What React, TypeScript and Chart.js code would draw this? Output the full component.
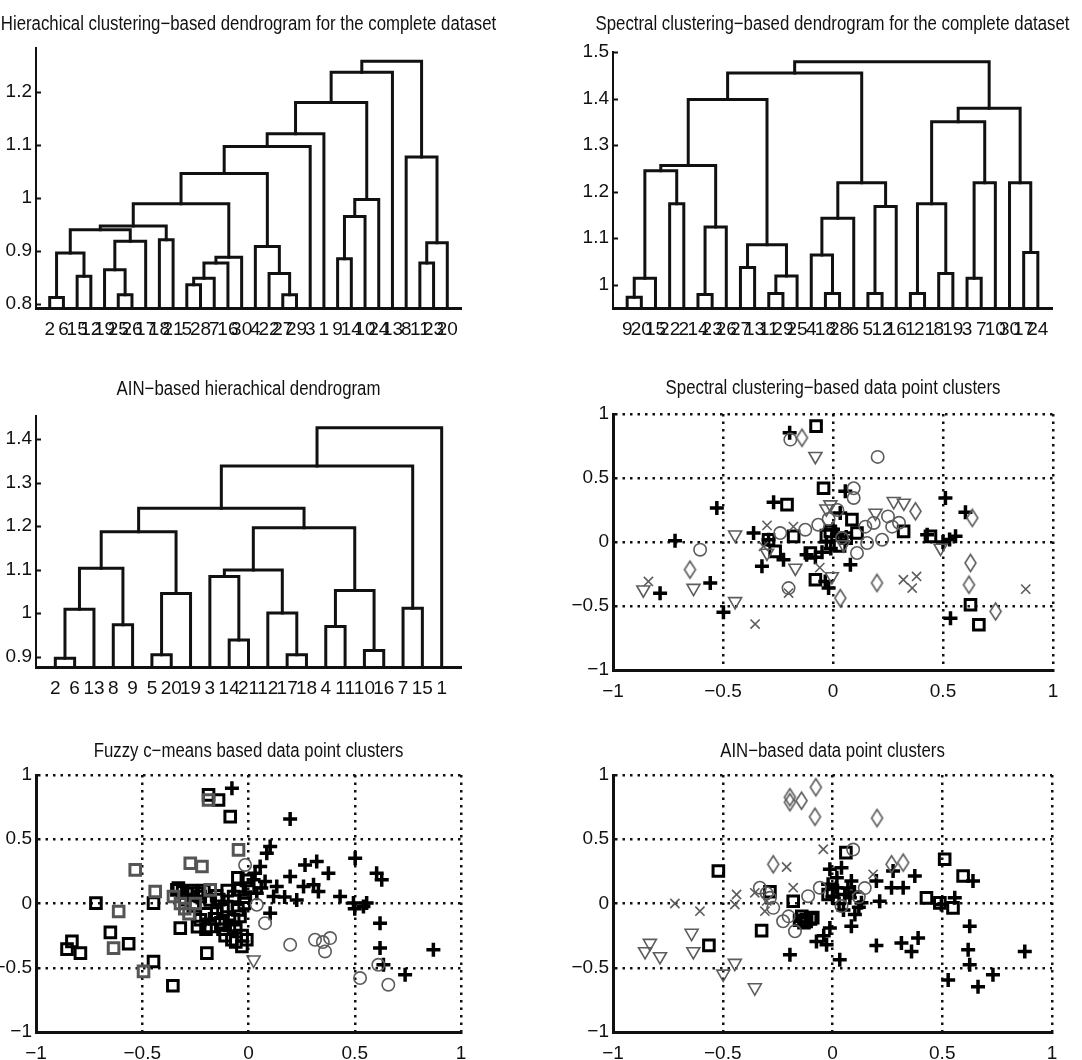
import React, { useEffect, useRef } from "react";
import { Chart, registerables } from "chart.js";

Chart.register(...registerables);

const FONT_FAMILY = '"Liberation Sans", Arial, Helvetica, sans-serif';
const FONT_SIZE = 19;
const TITLE_SIZE = 20;
const TITLE_SQUEEZE = 0.84;
const INK = "#111111";
const GRAY = "#5c5c5c";

type Link = [number, number, number];
type Pt = [number, number];

// ---------------- Panel 1: hierarchical clustering dendrogram ----------------
const hierTitle = "Hierachical clustering−based dendrogram for the complete dataset";
const hierLeaves = ["2", "6", "15", "12", "19", "25", "26", "17", "18", "21", "5", "28", "7", "16", "30", "4", "22", "27", "29", "3", "1", "9", "14", "10", "24", "13", "8", "11", "23", "20"];
// [left node, right node, height]; nodes 1..n are leaf positions, n+k is the k-th merge
const hierLinks: Link[] = [
  [1, 2, 0.812], [3, 4, 0.852], [31, 32, 0.896], [6, 7, 0.817], [5, 34, 0.864],
  [35, 8, 0.918], [9, 10, 0.921], [33, 36, 0.94], [38, 37, 0.947], [11, 12, 0.836],
  [40, 13, 0.848], [41, 14, 0.877], [42, 15, 0.888], [39, 43, 0.989], [18, 19, 0.817],
  [17, 45, 0.857], [16, 46, 0.908], [44, 47, 1.046], [48, 20, 1.097], [49, 21, 1.121],
  [22, 23, 0.885], [51, 24, 0.965], [52, 25, 0.997], [50, 53, 1.18], [54, 26, 1.237],
  [28, 29, 0.877], [56, 30, 0.915], [27, 57, 1.077], [55, 58, 1.258],
];
const hierYRange = [0.792, 1.283];
const hierYTicks = [0.8, 0.9, 1, 1.1, 1.2];
const hierYLabels = ["0.8", "0.9", "1", "1.1", "1.2"];

// ---------------- Panel 2: spectral clustering dendrogram ----------------
const specDTitle = "Spectral clustering−based dendrogram for the complete dataset";
const specLeaves = ["9", "20", "15", "22", "2", "14", "23", "26", "27", "13", "11", "29", "25", "4", "18", "28", "6", "5", "12", "16", "1", "21", "8", "19", "3", "7", "10", "30", "17", "24"];
const specLinks: Link[] = [
  [1, 2, 0.973], [31, 3, 1.014], [4, 5, 1.174], [32, 33, 1.245], [6, 7, 0.979],
  [35, 8, 1.124], [34, 36, 1.256], [9, 10, 1.037], [11, 12, 0.981], [39, 13, 1.019],
  [38, 40, 1.086], [37, 41, 1.398], [15, 16, 0.981], [14, 43, 1.064], [44, 17, 1.143],
  [18, 19, 0.981], [46, 20, 1.168], [45, 47, 1.219], [42, 48, 1.455], [21, 22, 0.981],
  [23, 24, 1.024], [50, 51, 1.174], [25, 26, 1.014], [53, 27, 1.219], [52, 54, 1.35],
  [29, 30, 1.069], [28, 56, 1.219], [55, 57, 1.379], [49, 58, 1.479],
];
const specYRange = [0.95, 1.5];
const specYTicks = [1, 1.1, 1.2, 1.3, 1.4, 1.5];
const specYLabels = ["1", "1.1", "1.2", "1.3", "1.4", "1.5"];

// ---------------- Panel 3: AIN dendrogram ----------------
const ainDTitle = "AIN−based hierachical dendrogram";
const ainLeaves = ["2", "6", "13", "8", "9", "5", "20", "19", "3", "14", "21", "12", "17", "18", "4", "11", "10", "16", "7", "15", "1"];
const ainLinks: Link[] = [
  [1, 2, 0.896], [22, 3, 1.009], [4, 5, 0.973], [23, 24, 1.103], [6, 7, 0.904],
  [26, 8, 1.045], [25, 27, 1.187], [10, 11, 0.938], [9, 29, 1.084], [13, 14, 0.904],
  [12, 31, 1.0], [30, 32, 1.099], [15, 16, 0.969], [17, 18, 0.914], [34, 35, 1.052],
  [33, 36, 1.196], [28, 37, 1.241], [19, 20, 1.011], [38, 39, 1.338], [40, 21, 1.426],
];
const ainYRange = [0.876, 1.453];
const ainYTicks = [0.9, 1, 1.1, 1.2, 1.3, 1.4];
const ainYLabels = ["0.9", "1", "1.1", "1.2", "1.3", "1.4"];

// ---------------- Scatter axes ----------------
const scatterTicks = [-1, -0.5, 0, 0.5, 1];
const scatterTickLabels = ["−1", "−0.5", "0", "0.5", "1"];

// ---------------- Panel 4: spectral clustering scatter ----------------
const specScatterTitle = "Spectral clustering−based data point clusters";
const specPlus: Pt[] = [
  [-0.197, 0.853], [-0.528, 0.266], [-0.718, 0.01], [-0.786, -0.4], [-0.558, -0.32], [-0.498, -0.548],
  [-0.27, 0.31], [-0.323, -0.19], [-0.361, 0.07], [-0.293, 0.018], [-0.225, -0.138], [-0.12, -0.1],
  [-0.08, -0.12], [-0.05, -0.08], [-0.035, -0.308], [-0.02, -0.36], [0.056, 0.396], [0.079, -0.178],
  [0.033, 0.227], [0.018, 0.057], [0.511, 0.344], [0.602, 0.232], [0.534, -0.595], [0.5, 0.0],
  [0.53, 0.02], [0.557, 0.044], [0.428, 0.057], [0.06, 0.04], [-0.03, 0.0], [0.0, 0.1], [-0.01, -0.05],
];
const specSquare: Pt[] = [
  [-0.077, 0.905], [-0.043, 0.42], [-0.209, 0.292], [-0.293, 0.018], [-0.179, 0.044], [-0.263, -0.073],
  [-0.08, -0.295], [0.086, 0.175], [0.109, 0.07], [0.321, 0.083], [0.443, 0.044], [0.625, -0.49],
  [0.663, -0.647], [-0.012, 0.083], [-0.103, -0.086], [0.06, 0.03], [-0.03, 0.05], [0.03, -0.03],
];
const specCircle: Pt[] = [
  [-0.194, 0.8], [0.203, 0.665], [-0.604, -0.06], [-0.202, -0.36], [0.094, 0.42], [0.094, 0.344],
  [-0.126, 0.096], [-0.067, 0.135], [0.147, 0.12], [0.185, 0.149], [0.269, 0.12], [0.223, 0.018],
  [0.155, -0.008], [0.109, -0.086], [0.3, 0.15], [-0.24, 0.07], [0.041, 0.031], [0.25, 0.2],
  [-0.02, 0.18], [0.02, 0.25],
];
const specTriangle: Pt[] = [
  [-0.08, 0.67], [-0.862, -0.373], [-0.634, -0.36], [-0.445, 0.057], [-0.445, -0.464], [-0.012, 0.292],
  [0.322, 0.305], [0.276, 0.318], [0.193, 0.227], [-0.171, -0.203], [-0.005, -0.269], [-0.3, -0.086],
  [0.048, -0.02], [0.489, -0.047], [-0.03, 0.26],
];
const specDiamond: Pt[] = [
  [-0.141, 0.814], [-0.65, -0.216], [0.033, -0.438], [0.2, -0.32], [0.375, 0.24], [0.633, 0.188],
  [0.625, -0.164], [0.618, -0.334], [0.739, -0.542],
];
const specCross: Pt[] = [
  [-0.839, -0.308], [-0.354, -0.641], [0.32, -0.295], [0.36, -0.36], [0.38, -0.269], [0.876, -0.368],
  [-0.3, 0.13], [-0.18, 0.12], [-0.202, -0.399], [-0.316, -0.034], [-0.06, -0.2],
];

// ---------------- Panel 5: fuzzy c-means scatter ----------------
const fuzzyTitle = "Fuzzy c−means based data point clusters";
const fuzzySquareBlack: Pt[] = [
  [-0.188, 0.845], [-0.141, 0.806], [-0.086, 0.676], [-0.718, 0.003], [-0.854, -0.355], [-0.831, -0.295],
  [-0.791, -0.386], [-0.65, -0.225], [-0.564, -0.313], [-0.447, -0.451], [-0.356, -0.64], [-0.447, 0.003],
  [-0.321, -0.192], [-0.196, -0.386], [-0.078, -0.282], [-0.008, -0.282], [-0.031, -0.334], [-0.337, 0.106],
  [-0.29, 0.08], [-0.227, 0.054], [-0.18, 0.028], [-0.149, -0.075], [-0.102, -0.023], [-0.07, 0.054],
  [-0.039, 0.106], [-0.18, -0.179], [-0.07, -0.127], [-0.227, -0.127], [-0.01, 0.18], [-0.12, -0.2],
  [-0.05, -0.05], [-0.26, -0.02], [-0.3, 0.03], [-0.02, 0.0], [-0.1, 0.1], [-0.2, -0.08], [-0.14, 0.03],
  [-0.33, 0.12], [-0.31, 0.09], [-0.27, 0.1], [-0.24, 0.08], [-0.21, 0.1], [-0.15, 0.06], [-0.12, -0.05],
  [-0.16, -0.12], [-0.13, -0.15], [-0.09, -0.17], [-0.06, -0.19], [-0.04, -0.1], [-0.2, -0.2],
  [-0.24, -0.18], [-0.03, -0.25], [-0.06, -0.3], [-0.11, -0.25], [-0.015, 0.05], [0.0, 0.12], [-0.05, 0.2],
];
const fuzzySquareGray: Pt[] = [
  [-0.533, 0.262], [-0.274, 0.313], [-0.219, 0.288], [-0.047, 0.417], [-0.439, 0.093], [-0.611, -0.062],
  [-0.635, -0.347], [-0.494, -0.528], [-0.353, 0.054], [-0.18, 0.106], [-0.188, 0.806], [-0.32, 0.0],
  [-0.3, -0.04], [-0.28, -0.08], [-0.25, 0.0],
];
const fuzzyPlus: Pt[] = [
  [-0.078, 0.896], [0.196, 0.658], [0.502, 0.352], [0.603, 0.236], [0.627, 0.184], [0.619, -0.153],
  [0.619, -0.347], [0.635, -0.477], [0.737, -0.554], [0.87, -0.36], [0.086, 0.391], [0.102, 0.443],
  [0.055, 0.288], [0.031, 0.236], [0.078, 0.171], [0.133, 0.132], [0.118, 0.054], [0.196, 0.21],
  [0.227, 0.028], [0.266, 0.3], [0.321, 0.326], [0.376, 0.236], [0.306, 0.145], [0.329, 0.093],
  [0.259, 0.132], [0.431, 0.054], [0.494, 0.003], [0.556, 0.003], [0.541, -0.023], [0.102, -0.075],
  [0.039, 0.08], [0.024, 0.184], [0.06, 0.12], [0.17, 0.05], [0.5, -0.04],
];
const fuzzyCircle: Pt[] = [
  [-0.016, 0.3], [0.039, -0.01], [0.078, -0.153], [0.196, -0.321], [0.313, -0.282], [0.36, -0.373],
  [0.384, -0.269], [0.525, -0.58], [0.611, -0.477], [0.658, -0.632], [0.35, -0.3],
];
const fuzzyTriangle: Pt[] = [[0.024, -0.438]];

// ---------------- Panel 6: AIN scatter ----------------
const ainScatterTitle = "AIN−based data point clusters";
const ainDiamond: Pt[] = [
  [-0.194, 0.827], [-0.141, 0.8], [-0.076, 0.905], [-0.08, 0.675], [0.203, 0.665], [-0.27, 0.305],
  [0.269, 0.305], [0.322, 0.318], [-0.194, 0.788],
];
const ainCross: Pt[] = [
  [-0.718, 0.0], [-0.604, -0.06], [-0.437, 0.07], [-0.445, -0.008], [-0.354, 0.083], [-0.209, 0.284],
  [-0.042, 0.422], [-0.308, -0.06], [-0.179, 0.123], [0.185, 0.227], [-0.3, 0.02],
];
const ainTriangle: Pt[] = [
  [-0.854, -0.373], [-0.832, -0.308], [-0.786, -0.412], [-0.642, -0.23], [-0.634, -0.373], [-0.498, -0.548],
  [-0.445, -0.464], [-0.354, -0.654],
];
const ainCircle: Pt[] = [
  [-0.331, 0.123], [-0.27, -0.034], [-0.225, -0.138], [-0.171, -0.216], [-0.111, 0.057], [-0.058, 0.123],
  [0.094, 0.42], [0.147, 0.12], [0.041, -0.02], [-0.285, 0.044], [-0.3, 0.08], [-0.2, -0.1], [0.12, 0.05],
];
const ainSquare: Pt[] = [
  [-0.52, 0.253], [-0.563, -0.326], [-0.323, -0.211], [-0.285, 0.091], [-0.179, 0.018], [-0.118, -0.125],
  [-0.09, -0.11], [0.061, 0.396], [0.511, 0.344], [0.428, 0.044], [0.549, -0.034], [0.595, 0.214],
  [0.489, 0.005], [-0.02, 0.07], [-0.13, -0.15], [0.0, 0.1], [-0.14, -0.1], [-0.12, -0.14], [-0.1, -0.12],
  [-0.15, -0.13],
];
const ainPlus: Pt[] = [
  [-0.194, -0.399], [-0.073, -0.295], [-0.027, -0.321], [-0.012, -0.19], [0.033, -0.438], [0.086, -0.177],
  [-0.012, 0.266], [0.041, 0.279], [0.086, 0.175], [0.079, 0.044], [0.132, 0.005], [0.102, -0.086],
  [0.2, 0.175], [0.215, 0.018], [0.269, 0.123], [0.276, 0.253], [0.322, 0.123], [0.375, 0.214],
  [0.2, -0.326], [0.314, -0.308], [0.36, -0.373], [0.39, -0.269], [0.625, -0.177], [0.618, -0.36],
  [0.625, -0.477], [0.527, -0.595], [0.663, -0.647], [0.731, -0.555], [0.876, -0.373], [0.64, 0.175],
  [0.557, 0.044], [0.496, -0.008], [0.018, 0.123], [0.056, 0.07], [-0.04, -0.25], [0.0, 0.05],
  [0.03, 0.0], [0.07, 0.12], [0.1, 0.09], [-0.02, 0.15], [0.05, -0.05], [0.12, -0.03], [0.02, 0.2],
];

// ---------------- helpers ----------------
const tickFont = { family: FONT_FAMILY, size: FONT_SIZE };

const inwardTicks = {
  id: "inwardTicks",
  afterDraw(chart: any, _args: any, opts: any) {
    if (!opts || !opts.length) return;
    const { ctx, chartArea } = chart;
    const y = chart.scales.y;
    ctx.save();
    ctx.strokeStyle = INK;
    ctx.lineWidth = 2;
    y.ticks.forEach((t: any) => {
      const py = Math.round(y.getPixelForValue(t.value)) + 0.5;
      ctx.beginPath();
      ctx.moveTo(chartArea.left, py);
      ctx.lineTo(chartArea.left + opts.length, py);
      ctx.stroke();
    });
    ctx.restore();
  },
};

// Title centred over the axes, drawn as real canvas text with a slightly narrowed face
const axesTitle = {
  id: "axesTitle",
  afterDraw(chart: any, _args: any, opts: any) {
    if (!opts || !opts.text) return;
    const { ctx, chartArea } = chart;
    ctx.save();
    ctx.font = `${TITLE_SIZE}px ${FONT_FAMILY}`;
    ctx.fillStyle = INK;
    ctx.textAlign = "center";
    ctx.textBaseline = "alphabetic";
    ctx.translate((chartArea.left + chartArea.right) / 2, chartArea.top - opts.gap);
    ctx.scale(TITLE_SQUEEZE, 1);
    ctx.fillText(opts.text, 0, 0);
    ctx.restore();
  },
};

function makeDiamond(w: number, h: number, color: string, lw: number) {
  const c = document.createElement("canvas");
  c.width = Math.ceil(w + lw * 2);
  c.height = Math.ceil(h + lw * 2);
  const ctx = c.getContext("2d") as CanvasRenderingContext2D;
  const cx = c.width / 2;
  const cy = c.height / 2;
  ctx.strokeStyle = color;
  ctx.lineWidth = lw;
  ctx.beginPath();
  ctx.moveTo(cx, cy - h / 2);
  ctx.lineTo(cx + w / 2, cy);
  ctx.lineTo(cx, cy + h / 2);
  ctx.lineTo(cx - w / 2, cy);
  ctx.closePath();
  ctx.stroke();
  return c;
}

function dendrogramDatasets(nLeaves: number, links: Link[]) {
  const xs: number[] = [];
  const hs: number[] = [];
  for (let i = 1; i <= nLeaves; i++) {
    xs[i] = i;
    hs[i] = 0;
  }
  return links.map(([a, b, h], k) => {
    const id = nLeaves + 1 + k;
    xs[id] = (xs[a] + xs[b]) / 2;
    hs[id] = h;
    return {
      data: [
        { x: xs[a], y: hs[a] },
        { x: xs[a], y: h },
        { x: xs[b], y: h },
        { x: xs[b], y: hs[b] },
      ],
      showLine: true,
      borderColor: INK,
      borderWidth: 3,
      borderJoinStyle: "miter",
      borderCapStyle: "square",
      pointRadius: 0,
      tension: 0,
    };
  });
}

function baseOptions(title: string, g: any, x: any, y: any, extraPlugins: any = {}) {
  return {
    animation: false,
    responsive: false,
    maintainAspectRatio: false,
    devicePixelRatio: 1,
    events: [],
    layout: { padding: { left: 0, right: g.padL, top: g.padT, bottom: 0 } },
    plugins: {
      legend: { display: false },
      tooltip: { enabled: false },
      title: { display: false },
      axesTitle: { text: title, gap: g.titleGap },
      ...extraPlugins,
    },
    scales: {
      x: { ...x, afterFit: (s: any) => { s.height = g.padB; } },
      y: { ...y, afterFit: (s: any) => { s.width = g.padL; } },
    },
  };
}

function dendroConfig(title: string, leaves: string[], links: Link[], yRange: number[], yTicks: number[], yLabels: string[]) {
  return (g: any) => ({
    type: "scatter",
    data: { datasets: dendrogramDatasets(leaves.length, links) },
    plugins: [inwardTicks, axesTitle],
    options: baseOptions(
      title,
      g,
      {
        type: "linear",
        min: 0,
        max: leaves.length + 1,
        afterBuildTicks: (s: any) => { s.ticks = leaves.map((_, i) => ({ value: i + 1 })); },
        ticks: { autoSkip: false, maxRotation: 0, minRotation: 0, padding: 10, color: INK, font: tickFont, callback: (_v: any, i: number) => leaves[i] },
        grid: { display: false, drawTicks: false },
        border: { display: true, color: INK, width: 3 },
      },
      {
        type: "linear",
        min: yRange[0],
        max: yRange[1],
        afterBuildTicks: (s: any) => { s.ticks = yTicks.map((v) => ({ value: v })); },
        ticks: { padding: 4, color: INK, font: tickFont, callback: (_v: any, i: number) => yLabels[i] },
        grid: { display: false, drawTicks: false },
        border: { display: true, color: INK, width: 2 },
      },
      { inwardTicks: { length: 5 } }
    ),
  });
}

function markerStyle(kind: string) {
  switch (kind) {
    case "plus":
      return { pointStyle: "cross", pointRadius: 7, pointBorderWidth: 3.5, pointBorderColor: "#000" };
    case "square":
      return { pointStyle: "rect", pointRadius: 7.5, pointBorderWidth: 3, pointBorderColor: "#000" };
    case "squareGray":
      return { pointStyle: "rect", pointRadius: 7.5, pointBorderWidth: 3, pointBorderColor: "#555" };
    case "circle":
      return { pointStyle: "circle", pointRadius: 6.2, pointBorderWidth: 1.6, pointBorderColor: GRAY };
    case "triangle":
      return { pointStyle: "triangle", pointRotation: 180, pointRadius: 7.5, pointBorderWidth: 1.6, pointBorderColor: GRAY };
    case "diamond":
      return { pointStyle: makeDiamond(11, 17, GRAY, 1.6), pointRadius: 8 };
    default:
      return { pointStyle: "crossRot", pointRadius: 6.5, pointBorderWidth: 1.6, pointBorderColor: GRAY };
  }
}

function scatterConfig(title: string, series: [string, Pt[]][]) {
  const axis = {
    type: "linear",
    min: -1,
    max: 1,
    afterBuildTicks: (s: any) => { s.ticks = scatterTicks.map((v) => ({ value: v })); },
    grid: { display: true, drawTicks: false, color: INK, lineWidth: 2.5 },
    border: { display: true, color: INK, width: 3, dash: [2.5, 5] },
  };
  return (g: any) => ({
    type: "scatter",
    data: {
      datasets: series.map(([kind, pts]) => ({
        data: pts.map(([x, y]) => ({ x, y })),
        pointBackgroundColor: "rgba(0,0,0,0)",
        ...markerStyle(kind),
      })),
    },
    plugins: [axesTitle],
    options: baseOptions(
      title,
      g,
      { ...axis, ticks: { padding: 10, color: INK, font: tickFont, maxRotation: 0, autoSkip: false, callback: (_v: any, i: number) => scatterTickLabels[i] } },
      { ...axis, ticks: { padding: 4, color: INK, font: tickFont, autoSkip: false, callback: (_v: any, i: number) => scatterTickLabels[i] } }
    ),
  });
}

function ChartPanel({ rect, titleBase, build }: any) {
  const ref = useRef<HTMLCanvasElement>(null);
  const padL = 64;
  const padB = 40;
  const padT = 50;
  const top = rect.t - padT;
  const left = rect.l - padL;
  const width = rect.r - rect.l + 2 * padL;
  const height = rect.b + padB - top;
  const titleGap = rect.t - titleBase;
  useEffect(() => {
    const chart = new Chart(ref.current as HTMLCanvasElement, build({ padL, padB, padT, titleGap }) as any);
    return () => chart.destroy();
  }, []);
  return (
    <canvas
      ref={ref}
      width={width}
      height={height}
      style={{ position: "absolute", left, top, width, height }}
    />
  );
}

const panels = [
  { rect: { l: 36, t: 48, r: 461, b: 308 }, titleBase: 29.5, build: dendroConfig(hierTitle, hierLeaves, hierLinks, hierYRange, hierYTicks, hierYLabels) },
  { rect: { l: 613, t: 52, r: 1052, b: 308 }, titleBase: 29.5, build: dendroConfig(specDTitle, specLeaves, specLinks, specYRange, specYTicks, specYLabels) },
  { rect: { l: 36, t: 416, r: 461, b: 667 }, titleBase: 395, build: dendroConfig(ainDTitle, ainLeaves, ainLinks, ainYRange, ainYTicks, ainYLabels) },
  {
    rect: { l: 613, t: 414, r: 1053, b: 670 }, titleBase: 394,
    build: scatterConfig(specScatterTitle, [
      ["circle", specCircle], ["triangle", specTriangle], ["diamond", specDiamond], ["cross", specCross],
      ["square", specSquare], ["plus", specPlus],
    ]),
  },
  {
    rect: { l: 36, t: 775, r: 461, b: 1032 }, titleBase: 757,
    build: scatterConfig(fuzzyTitle, [
      ["circle", fuzzyCircle], ["triangle", fuzzyTriangle], ["squareGray", fuzzySquareGray],
      ["square", fuzzySquareBlack], ["plus", fuzzyPlus],
    ]),
  },
  {
    rect: { l: 613, t: 775, r: 1052, b: 1032 }, titleBase: 757,
    build: scatterConfig(ainScatterTitle, [
      ["circle", ainCircle], ["triangle", ainTriangle], ["diamond", ainDiamond], ["cross", ainCross],
      ["square", ainSquare], ["plus", ainPlus],
    ]),
  },
];

export default function App() {
  return (
    <div style={{ position: "absolute", left: 0, top: 0, width: 1082, height: 1060, overflow: "hidden", background: "#fff" }}>
      {panels.map((p, i) => (
        <ChartPanel key={i} rect={p.rect} titleBase={p.titleBase} build={p.build} />
      ))}
    </div>
  );
}
